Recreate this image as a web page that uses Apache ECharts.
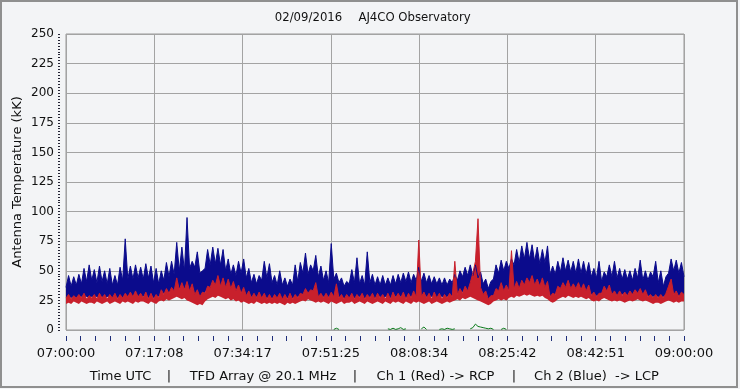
<!DOCTYPE html>
<html><head><meta charset="utf-8">
<script src="https://cdn.jsdelivr.net/npm/echarts@6/dist/echarts.min.js"></script>
<style>html,body{margin:0;padding:0;background:#f3f4f6;}#c{width:740px;height:389px;}</style>
</head><body><div id="c"></div>
<script>
// ---- data ----
const startHour = 7;            // 07:00:00 UTC
const stepMinutes = 0.5;        // sample spacing of the series below
const tickLabels = ['07:00:00','07:17:08','07:34:17','07:51:25','08:08:34','08:25:42','08:42:51','09:00:00'];
const yTicks = [0, 250, 25];    // min, max, interval

// Ch 2 (Blue) upper / lower envelopes, kK, one value per 0.5 min
const blueHigh = [
36,46,37,45,38,47,39,52,41,55,
42,51,40,54,41,50,39,52,38,46,
38,53,42,77,43,54,43,55,44,53,
43,56,44,54,40,52,39,50,42,57,
45,58,47,74,50,70,50,95,52,58,
53,66,48,50,52,68,55,70,56,69,
55,68,50,60,47,55,46,58,48,60,
44,52,40,47,39,46,42,58,44,56,
40,46,38,50,38,44,37,43,38,55,
41,57,48,65,47,55,50,63,45,54,
42,50,40,73,43,48,40,44,37,41,
39,51,40,61,39,46,38,66,40,47,
38,45,38,46,38,44,38,46,39,47,
40,48,41,49,40,47,42,53,41,48,
40,46,39,45,39,44,38,44,38,43,
40,47,42,50,45,53,46,55,46,55,
44,49,39,43,35,41,43,55,48,59,
50,58,52,60,55,68,57,71,60,74,
60,72,58,70,56,68,57,71,47,54,
47,58,49,61,50,59,49,58,48,60,
48,58,47,57,45,52,44,58,41,49,
45,55,45,58,44,52,43,51,43,50,
42,52,44,59,42,50,42,49,45,58,
40,50,37,45,48,60,50,59,48,57,
45];
const blueLow = [
27,28,27,28,27,28,28,27,28,27,
28,27,28,27,28,27,28,27,27,28,
27,28,27,28,28,29,28,29,28,29,
28,29,27,28,27,28,28,30,31,30,
32,31,33,34,35,34,35,33,32,31,
29,28,28,27,32,34,35,36,37,36,
37,35,36,34,34,33,33,31,32,30,
29,28,28,27,28,28,27,28,27,27,
27,26,27,27,26,27,27,26,27,27,
28,29,30,30,31,32,31,29,28,28,
28,27,28,28,27,27,28,27,27,27,
27,28,27,27,28,27,27,27,28,27,
27,28,28,27,28,27,27,28,28,28,
28,28,27,28,28,29,28,29,29,28,
28,27,28,28,27,28,28,27,28,28,
29,30,31,31,32,33,33,34,33,32,
31,29,27,25,24,26,29,31,33,32,
33,33,34,35,35,36,35,36,37,36,
37,36,35,35,35,34,34,33,29,27,
30,32,33,34,34,35,34,33,34,33,
34,33,32,32,30,28,29,29,31,32,
32,31,30,30,29,29,30,29,29,30,
30,30,31,30,30,30,29,28,28,28,
28,27,28,28,31,32,30,29,29,28,
28];
// Ch 1 (Red) upper / lower envelopes
const redHigh = [
27,30,26,29,27,30,27,31,26,29,
27,30,26,31,27,30,26,30,27,31,
26,30,27,31,28,32,28,33,28,31,
27,32,26,31,26,30,27,34,30,35,
31,36,33,44,34,40,34,41,33,39,
30,34,28,32,31,37,36,42,38,46,
37,44,36,43,35,41,33,38,31,36,
29,33,27,31,27,32,27,31,26,30,
26,30,27,31,26,30,26,31,26,30,
27,31,30,35,31,34,33,40,28,31,
27,31,27,32,28,39,27,30,26,30,
27,31,26,30,27,31,26,30,27,31,
26,31,27,30,26,31,26,32,27,31,
27,32,26,31,27,33,28,76,28,32,
27,31,26,32,27,31,26,30,27,31,
28,58,30,35,31,37,33,40,48,58,
94,36,30,33,26,29,29,35,33,40,
33,38,33,67,35,41,35,42,38,44,
40,46,38,43,37,44,36,41,28,31,
30,37,35,40,36,42,35,39,35,40,
34,39,33,38,29,32,28,31,31,37,
33,38,30,33,29,33,29,32,29,33,
30,34,31,35,30,34,28,30,27,30,
27,30,27,31,37,43,30,33,28,32,
30];
const redLow = [
22,23,22,24,23,22,24,23,22,23,
23,22,24,23,22,23,24,22,23,24,
23,22,24,23,24,23,22,24,23,24,
24,23,22,24,23,22,24,25,24,26,
25,26,27,28,27,26,27,25,24,23,
22,21,22,21,24,26,27,28,27,29,
28,27,26,27,25,26,24,25,23,24,
23,22,23,22,24,23,22,23,22,23,
22,23,22,23,22,21,23,22,23,22,
23,24,25,24,26,25,24,23,24,23,
24,23,22,24,23,22,23,24,22,23,
23,24,22,23,24,23,22,24,23,22,
23,24,23,22,24,23,22,24,23,24,
23,22,24,23,22,24,23,24,23,22,
23,24,22,23,24,23,22,23,24,23,
24,25,26,25,27,26,27,28,27,26,
25,24,23,22,21,22,24,25,26,25,
26,25,27,28,27,29,28,29,30,29,
30,29,28,29,28,29,27,26,24,23,
24,26,27,28,27,29,28,27,28,27,
28,27,26,27,25,24,25,24,26,27,
26,25,24,25,24,25,24,23,24,25,
24,25,26,25,24,25,24,23,22,23,
23,22,23,24,25,24,23,24,23,24,
24];
// faint green channel near zero (minutes after 07:00, kK; null = gap)
const greenTimes  = [52,52.5,53,53.5,62.5,63,63.5,64,64.5,65,65.5,66,66.5,69,69.5,70,70.5,72.5,73,73.5,74,74.5,75,75.5,76,78.5,79,79.5,80,80.5,81,81.5,82,82.5,83,83.5,84.5,85,85.5,86];
const greenValues = [0.5,1.5,0.5,null,1,0.5,1.5,0.5,1,2,0.5,1,null,1,2.5,0.5,null,0.5,1,0.5,1.5,1,0.5,1,null,1,2,5,3,2.5,2,1.5,1,1.5,0.5,null,0.5,1.5,0.5,null];

// ---- build ----
function pad(n){return (n<10?'0':'')+n;}
const sampleTimes = blueHigh.map((_, i) => {
  const s = Math.round(i * stepMinutes * 60);
  return pad(startHour + Math.floor(s/3600)) + ':' + pad(Math.floor(s/60)%60) + ':' + pad(s%60);
});
const blueBand = blueHigh.map((v, i) => v - blueLow[i]);
const redBand = redHigh.map((v, i) => v - redLow[i]);
const greenData = greenTimes.map((t, i) => [Math.round(t / stepMinutes), greenValues[i]]);
const minorPerMajor = 6;
const tickCats = [];
for (let i = 0; i <= (tickLabels.length - 1) * minorPerMajor; i++) tickCats.push('k' + i);

function hasFont(name){
  const c = document.createElement('canvas').getContext('2d');
  c.font = '20px monospace'; const a = c.measureText('AJ4CO Observatory 0209').width;
  c.font = '20px "' + name + '", monospace'; const b = c.measureText('AJ4CO Observatory 0209').width;
  return Math.abs(a - b) > 0.5;
}
const titleFont = hasFont('Liberation Sans Narrow') ? '15px "Liberation Sans Narrow"' : '13px "DejaVu Sans Condensed"';
const txtFont = '13px "DejaVu Sans"';
const BLUE = '#0b0b8c', RED = '#c8202c', GRIDC = '#a3a3a3', TXT = '#111';

const chart = echarts.init(document.getElementById('c'), null, {renderer: 'canvas'});
const bandLine = (c) => ({ lineStyle: {width: 1, color: c, join: 'miter', miterLimit: 4}, areaStyle: {color: c, opacity: 1} });
chart.setOption({
  animation: false,
  backgroundColor: '#f3f4f6',
  grid: { left: 66, right: 56, top: 34, bottom: 59, show: true, borderColor: '#999', borderWidth: 1, backgroundColor: 'transparent' },
  xAxis: [
    { type: 'category', data: sampleTimes, boundaryGap: false, show: false },
    { type: 'category', data: tickCats, boundaryGap: false, position: 'bottom', offset: 6,
      axisLine: {show: false},
      axisTick: {show: true, interval: 0, length: 5, lineStyle: {color: '#1f2f7a'}},
      axisLabel: {interval: minorPerMajor - 1, margin: 11, color: TXT, fontFamily: 'DejaVu Sans', fontSize: 13,
        formatter: (v, idx) => tickLabels[Math.round(idx / minorPerMajor)]},
      splitLine: {show: true, interval: minorPerMajor - 1, lineStyle: {color: GRIDC, width: 1}} }
  ],
  yAxis: { type: 'value', min: yTicks[0], max: yTicks[1], interval: yTicks[2], offset: 6,
    axisLine: {show: false},
    axisTick: {show: true, length: 2, lineStyle: {color: '#223'}},
    minorTick: {show: true, splitNumber: 10, length: 2, lineStyle: {color: '#223'}},
    axisLabel: {margin: 6, color: TXT, fontFamily: 'DejaVu Sans', fontSize: 12},
    splitLine: {show: true, lineStyle: {color: GRIDC, width: 1}} },
  series: [
    { type: 'line', name: 'blueBase', data: blueLow, stack: 'b', xAxisIndex: 0, symbol: 'none', lineStyle: {opacity: 0}, silent: true },
    Object.assign({ type: 'line', name: 'Ch 2 (Blue)', data: blueBand, stack: 'b', xAxisIndex: 0, symbol: 'none', silent: true }, bandLine(BLUE)),
    { type: 'line', name: 'redBase', data: redLow, stack: 'r', xAxisIndex: 0, symbol: 'none', lineStyle: {opacity: 0}, silent: true },
    Object.assign({ type: 'line', name: 'Ch 1 (Red)', data: redBand, stack: 'r', xAxisIndex: 0, symbol: 'none', silent: true }, bandLine(RED)),
    { type: 'line', name: 'green', data: greenData, xAxisIndex: 0, symbol: 'none', connectNulls: false, lineStyle: {width: 1, color: '#0a7a1a'}, silent: true }
  ],
  graphic: [
    { type: 'rect', shape: {x: 1, y: 1, width: 736, height: 386}, style: {fill: null, stroke: '#8f8f8f', lineWidth: 2}, silent: true },
    { type: 'text', x: 308.5, y: 18, style: {text: '02/09/2016', font: titleFont, fill: TXT, align: 'center', verticalAlign: 'middle'} },
    { type: 'text', x: 414.5, y: 18, style: {text: 'AJ4CO Observatory', font: titleFont, fill: TXT, align: 'center', verticalAlign: 'middle'} },
    { type: 'text', x: 18, y: 182, rotation: Math.PI / 2, style: {text: 'Antenna Temperature (kK)', font: txtFont, fill: TXT, align: 'center', verticalAlign: 'middle'} },
    { type: 'text', x: 120.5, y: 377, style: {text: 'Time UTC', font: txtFont, fill: TXT, align: 'center', verticalAlign: 'middle'} },
    { type: 'text', x: 169, y: 377, style: {text: '|', font: txtFont, fill: TXT, align: 'center', verticalAlign: 'middle'} },
    { type: 'text', x: 263, y: 377, style: {text: 'TFD Array @ 20.1 MHz', font: txtFont, fill: TXT, align: 'center', verticalAlign: 'middle'} },
    { type: 'text', x: 355, y: 377, style: {text: '|', font: txtFont, fill: TXT, align: 'center', verticalAlign: 'middle'} },
    { type: 'text', x: 435.5, y: 377, style: {text: 'Ch 1 (Red) -> RCP', font: txtFont, fill: TXT, align: 'center', verticalAlign: 'middle'} },
    { type: 'text', x: 514, y: 377, style: {text: '|', font: txtFont, fill: TXT, align: 'center', verticalAlign: 'middle'} },
    { type: 'text', x: 596.5, y: 377, style: {text: 'Ch 2 (Blue)  -> LCP', font: txtFont, fill: TXT, align: 'center', verticalAlign: 'middle'} }
  ]
});
</script></body></html>
